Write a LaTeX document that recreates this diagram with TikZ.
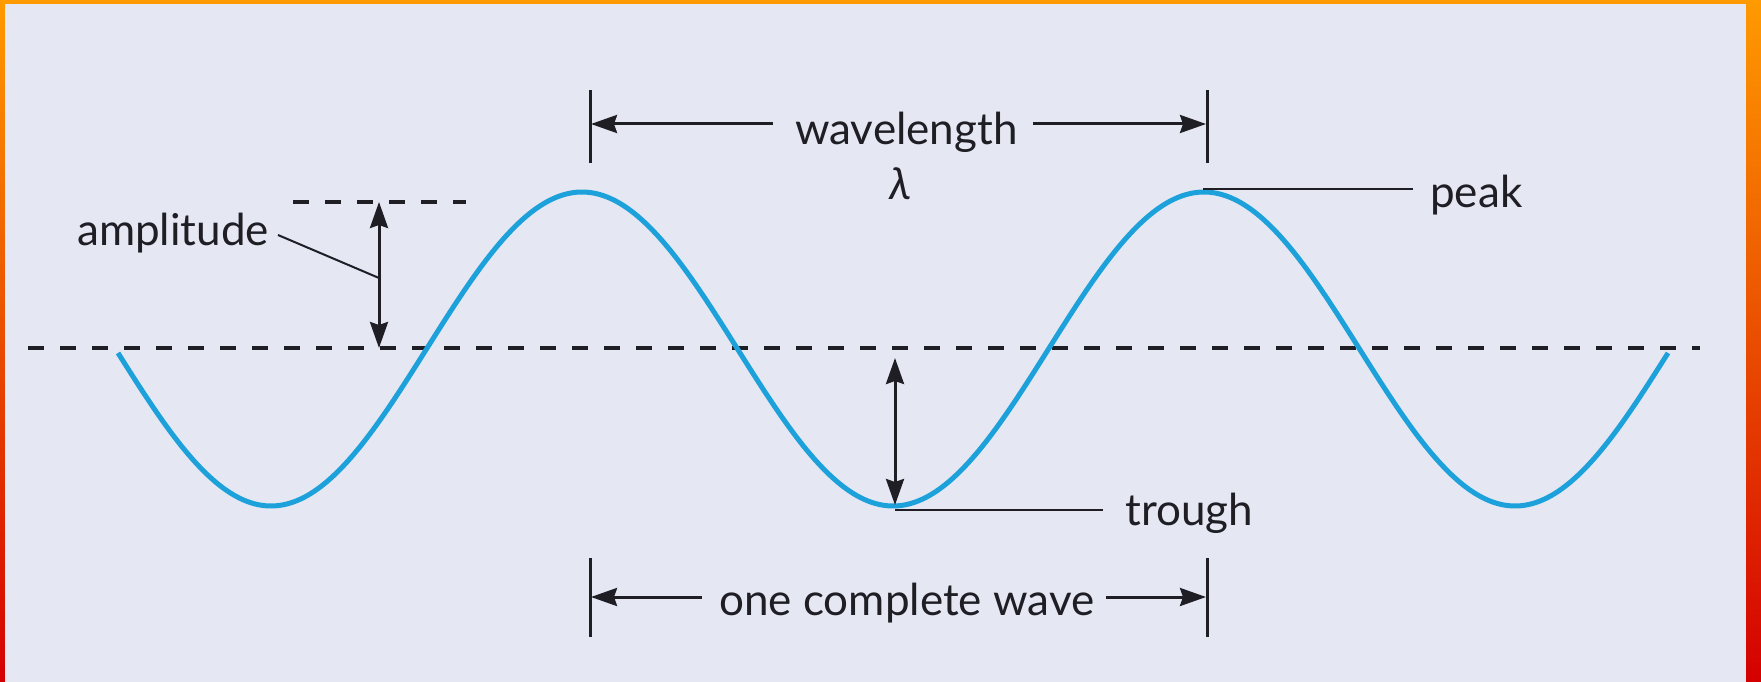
\documentclass[tikz,border=0pt]{standalone}
\usepackage{fontspec}
\setmainfont{Lato}
\usetikzlibrary{arrows.meta}
\definecolor{bgcol}{HTML}{E5E7F3}
\definecolor{wavecol}{HTML}{1DA1DB}
\definecolor{frametop}{HTML}{FF9A00}
\definecolor{framemid}{HTML}{FF5000}
\definecolor{framebot}{HTML}{D40000}
\definecolor{inkcol}{HTML}{1E1E24}
\begin{document}
\begin{tikzpicture}[x=1pt,y=-1pt,
  lbl/.style={inner sep=0pt, anchor=base west, text=inkcol, font=\fontsize{44}{48}\selectfont},
  dimarrow/.style={draw=inkcol, line width=3pt, -{Stealth[length=26pt,width=18pt,inset=3pt]}},
  dblarrow/.style={draw=inkcol, line width=3pt, {Stealth[length=26pt,width=18pt,inset=3pt]}-{Stealth[length=26pt,width=18pt,inset=3pt]}},
  bar/.style={draw=inkcol, line width=3pt},
  leader/.style={draw=inkcol, line width=2pt},
  refline/.style={draw=inkcol, line width=4.5pt, dash pattern=on 16pt off 16pt},
  wave/.style={draw=wavecol, line width=5pt}]
\useasboundingbox (0,0) rectangle (1761,682);
% frame and background
\shade[top color=frametop, middle color=framemid, bottom color=framebot] (0,0) rectangle (1761,682);
\fill[bgcol] (5,4) rectangle (1746,682);

% reference lines
\draw[refline] (28,348) -- (1700,348);
\draw[refline] (293,202) -- (466,202);

% wave
\draw[wave] plot[domain=118:1668, samples=400, smooth] (\x, {349+157*sin((\x-115.5)/622*360)});

% amplitude
\coordinate (ampTop) at (379,202);
\coordinate (ampBot) at (379,348);
\draw[dblarrow] (ampBot) -- (ampTop);
\node[lbl] (amp) at (77,245) {amplitude};
\coordinate (ampLeadA) at (278,235);
\coordinate (ampLeadB) at (379,278);
\draw[leader] (ampLeadA) -- (ampLeadB);

% trough arrow
\coordinate (trTop) at (895,358);
\coordinate (trBot) at (895,505);
\draw[dblarrow] (trTop) -- (trBot);
\coordinate (trLeadA) at (895,510);
\coordinate (trLeadB) at (1103,510);
\draw[leader] (trLeadA) -- (trLeadB);
\node[lbl] (trough) at (1125,525) {trough};

% peak
\coordinate (pkLeadA) at (1203,189);
\coordinate (pkLeadB) at (1413,189);
\draw[leader] (pkLeadA) -- (pkLeadB);
\node[lbl] (peak) at (1430,207) {peak};

% wavelength
\coordinate (wlBarLt) at (590,90);
\coordinate (wlBarLb) at (590,163);
\coordinate (wlBarRt) at (1207,90);
\coordinate (wlBarRb) at (1207,163);
\draw[bar] (wlBarLt) -- (wlBarLb);
\draw[bar] (wlBarRt) -- (wlBarRb);
\node[lbl] (wl) at (795,145) {wavelength};
\node[inner sep=0pt, anchor=base, text=inkcol, font=\fontsize{44}{48}\selectfont\itshape] (lam) at (900,199) {λ};
\coordinate (wlArrLs) at (773,124);
\coordinate (wlArrLe) at (591,124);
\coordinate (wlArrRs) at (1033,124);
\coordinate (wlArrRe) at (1206,124);
\draw[dimarrow] (wlArrLs) -- (wlArrLe);
\draw[dimarrow] (wlArrRs) -- (wlArrRe);

% one complete wave
\coordinate (ocBarLt) at (590,558);
\coordinate (ocBarLb) at (590,637);
\coordinate (ocBarRt) at (1207,558);
\coordinate (ocBarRb) at (1207,637);
\draw[bar] (ocBarLt) -- (ocBarLb);
\draw[bar] (ocBarRt) -- (ocBarRb);
\node[lbl] (oc) at (719,615) {one complete wave};
\coordinate (ocArrLs) at (702,597);
\coordinate (ocArrLe) at (591,597);
\coordinate (ocArrRs) at (1106,597);
\coordinate (ocArrRe) at (1206,597);
\draw[dimarrow] (ocArrLs) -- (ocArrLe);
\draw[dimarrow] (ocArrRs) -- (ocArrRe);
\end{tikzpicture}
\end{document}
